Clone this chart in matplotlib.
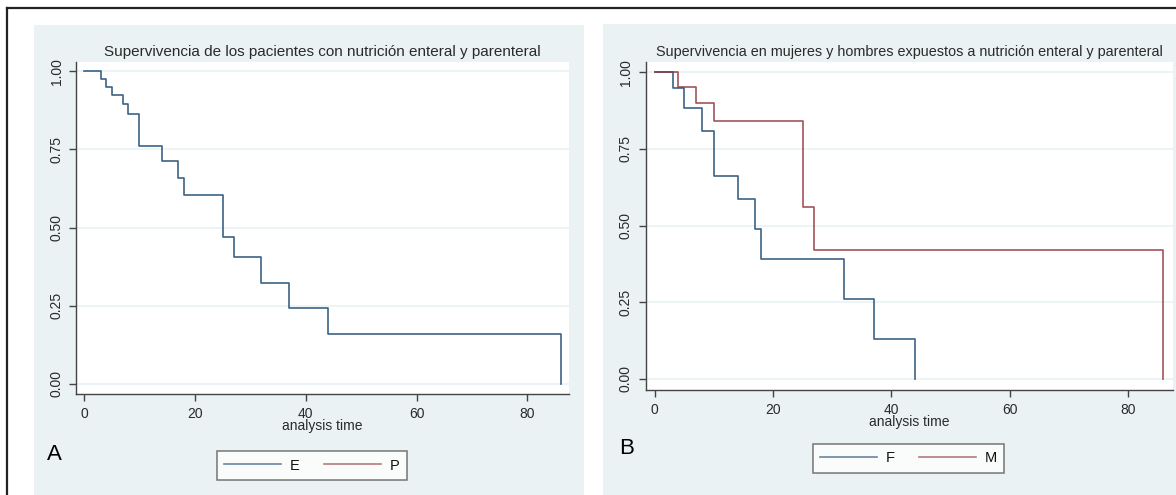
import matplotlib
matplotlib.use('Agg')
import matplotlib.pyplot as plt
from matplotlib.patches import Rectangle
from matplotlib.lines import Line2D

# Panel A: survival of all patients (E)
time_e = [0, 3, 4, 5, 7, 8, 10, 14, 17, 18, 25, 27, 32, 37, 44, 86]
surv_e = [1.0, 0.975, 0.95, 0.923, 0.894, 0.863, 0.761, 0.713, 0.659, 0.604,
          0.471, 0.405, 0.323, 0.242, 0.161, 0.0]

# Panel B: women (F) and men (M)
time_f = [0, 3, 5, 8, 10, 14, 17, 18, 32, 37, 44]
surv_f = [1.0, 0.947, 0.884, 0.809, 0.662, 0.587, 0.489, 0.391, 0.26, 0.129, 0.0]
time_m = [0, 4, 7, 10, 25, 27, 86]
surv_m = [1.0, 0.952, 0.90, 0.84, 0.559, 0.419, 0.0]

title_a = 'Supervivencia de los pacientes con nutrición enteral y parenteral'
title_b = 'Supervivencia en mujeres y hombres expuestos a nutrición enteral y parenteral'
xticks = [0, 20, 40, 60, 80]
yticks = [0.0, 0.25, 0.5, 0.75, 1.0]

navy = '#1a476f'
maroon = '#90353b'
bg = '#eaf2f3'
txt = '#2a2a2a'

W, H = 1176, 495
fig = plt.figure(figsize=(W / 100, H / 100), dpi=100)
plt.rcParams['font.family'] = ['Liberation Sans', 'DejaVu Sans']


def fx(px):
    return px / W


def fy(py):
    return 1 - py / H


# outer frame (top and left edges)
fig.add_artist(Line2D([fx(7), 1], [fy(7.5), fy(7.5)], color='#222222', lw=1.6))
fig.add_artist(Line2D([fx(7), fx(7)], [fy(7.5), 0], color='#222222', lw=1.6))

# panel backgrounds
fig.add_artist(Rectangle((fx(34), 0), fx(584 - 34), fy(25), facecolor=bg,
                         edgecolor='none', zorder=0))
fig.add_artist(Rectangle((fx(603), 0), fx(1176 - 603), fy(24), facecolor=bg,
                         edgecolor='none', zorder=0))


def style_axes(ax, xlim, ylim, title, title_x, title_size):
    ax.set_facecolor('white')
    ax.set_xlim(*xlim)
    ax.set_ylim(*ylim)
    for s in ['top', 'right']:
        ax.spines[s].set_visible(False)
    for s in ['left', 'bottom']:
        ax.spines[s].set_color('#444444')
        ax.spines[s].set_linewidth(1.0)
    ax.set_xticks(xticks)
    ax.set_yticks(yticks)
    ax.set_yticklabels([f'{v:.2f}' for v in yticks], rotation=90, va='center')
    ax.tick_params(axis='both', direction='out', length=5, width=1.0,
                   color='#444444', labelcolor=txt, labelsize=10, pad=4)
    for v in yticks:
        ax.axhline(v, color=bg, lw=1.2, zorder=0)
    ax.set_xlabel('analysis time', fontsize=10, color=txt, labelpad=-1)
    fig.text(title_x, fy(52), title, ha='center', va='center',
             fontsize=title_size, color=txt)


# Panel A
ax1 = fig.add_axes([fx(76), fy(394), fx(569 - 76), fy(62) - fy(394)])
style_axes(ax1, (-1.44, 87.5), (-0.032, 1.029), title_a, fx(322), 11)
ax1.step(time_e, surv_e, where='post', color=navy, lw=1.2, alpha=0.85)

# Panel B
ax2 = fig.add_axes([fx(645.5), fy(390), fx(1172.5 - 645.5), fy(62) - fy(390)])
style_axes(ax2, (-1.57, 87.55), (-0.036, 1.033), title_b, fx(909), 10.4)
ax2.step(time_f, surv_f, where='post', color=navy, lw=1.2, alpha=0.85)
ax2.step(time_m, surv_m, where='post', color=maroon, lw=1.2, alpha=0.85)


# legends
def add_legend(labels, colors, cx, cy):
    handles = [Line2D([], [], color=c, lw=1.2, alpha=0.65) for c in colors]
    leg = fig.legend(handles, labels, loc='center', bbox_to_anchor=(cx, cy),
                     ncol=2, frameon=True, fancybox=False, fontsize=10.5,
                     handlelength=3.9, columnspacing=1.7, handletextpad=0.6,
                     borderpad=0.5, borderaxespad=0)
    leg.get_frame().set_edgecolor('#555555')
    leg.get_frame().set_linewidth(1.1)
    for t in leg.get_texts():
        t.set_color('#111111')
    return leg


add_legend(['E', 'P'], [navy, maroon], fx(312), fy(465.5))
add_legend(['F', 'M'], [navy, maroon], fx(908.5), fy(458.5))

fig.text(fx(54), fy(454), 'A', ha='center', va='center', fontsize=16,
         color='black')
fig.text(fx(627), fy(449), 'B', ha='center', va='center', fontsize=16,
         color='black')

fig.savefig('out.png', dpi=100)
